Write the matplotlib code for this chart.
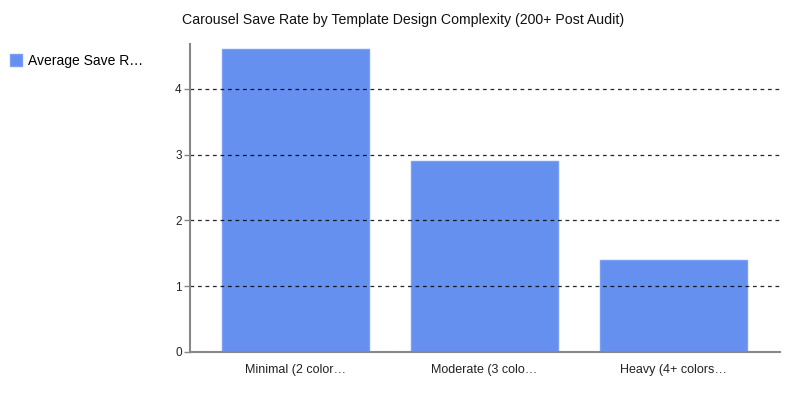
import matplotlib
matplotlib.use("Agg")
import matplotlib.pyplot as plt
from matplotlib.patches import Patch

categories = ["Minimal (2 color\u2026", "Moderate (3 colo\u2026", "Heavy (4+ colors\u2026"]
values = [4.6, 2.9, 1.4]
yticks = [0, 1, 2, 3, 4]
series_name = "Average Save R\u2026"
title = "Carousel Save Rate by Template Design Complexity (200+ Post Audit)"

plt.rcParams['font.family'] = ['Liberation Sans', 'DejaVu Sans']

fig = plt.figure(figsize=(8, 4), dpi=100)
ax = fig.add_axes([190/800, 1-352/400, 590/800, (352-44)/400])

bar_color = "#6690f0"
x = list(range(len(categories)))
ax.bar(x, values, width=0.778, color=bar_color, edgecolor="#7a9ff5", linewidth=1, zorder=2)

ax.set_xlim(-0.558, 2.563)
ax.set_ylim(0, 4.68)
ax.set_yticks(yticks)
ax.set_yticklabels([str(t) for t in yticks], fontsize=8.5, color="#222222")
ax.set_xticks(x)
ax.set_xticklabels(categories, fontsize=9, color="#222222")
ax.tick_params(axis='x', length=0, pad=9)
ax.tick_params(axis='y', length=4, width=1, color="#888888", pad=2)

for t in yticks[1:]:
    ax.axhline(t, color="black", linestyle=(0, (3, 3)), linewidth=0.9, zorder=3, alpha=0.85)

for s in ["top", "right"]:
    ax.spines[s].set_visible(False)
for s in ["left", "bottom"]:
    ax.spines[s].set_color("#888888")
    ax.spines[s].set_linewidth(1.5)
    ax.spines[s].set_zorder(4)

fig.text(403/800, 1-20/400, title, ha="center", va="center", fontsize=10.2, color="#111111")

fig.legend(handles=[Patch(facecolor=bar_color, edgecolor="#7a9ff5", label=series_name)],
           loc="upper left", bbox_to_anchor=(4/800, 1-48/400), frameon=False,
           fontsize=10, handlelength=0.9, handleheight=0.9, handletextpad=0.4, borderaxespad=0)

fig.savefig("out.png", dpi=100)
